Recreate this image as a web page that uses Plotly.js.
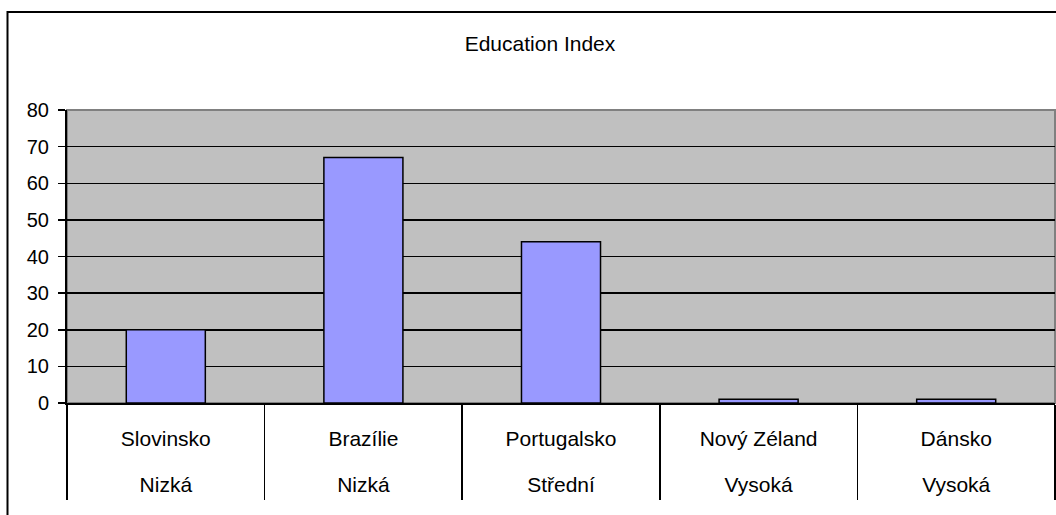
<!DOCTYPE html>
<html>
<head>
<meta charset="utf-8">
<script src="https://cdn.plot.ly/plotly-3.0.1.min.js"></script>
<style>
html,body{margin:0;padding:0;background:#fff;}
#chart{width:1056px;height:515px;}
</style>
</head>
<body>
<div id="chart"></div>
<script>
var countries = ["Slovinsko", "Brazílie", "Portugalsko", "Nový Zéland", "Dánsko"];
var levels = ["Nizká", "Nizká", "Střední", "Vysoká", "Vysoká"];
var values = [20, 67, 44, 1, 1];
var yTicks = [0, 10, 20, 30, 40, 50, 60, 70, 80];
var chartTitle = "Education Index";

var FONT = "Liberation Sans, Arial, sans-serif";

var trace = {
  type: "bar",
  x: countries,
  y: values,
  width: 0.4,
  marker: {color: "#9999FF", line: {color: "#000000", width: 1.5}},
  hoverinfo: "x+y"
};

// invisible helper so the second (level) category row is drawn
var levelTrace = {
  type: "scatter",
  mode: "markers",
  x: countries,
  y: values,
  xaxis: "x2",
  marker: {opacity: 0},
  hoverinfo: "skip",
  showlegend: false
};

var layout = {
  width: 1056,
  height: 515,
  margin: {l: 67, r: 1, t: 110, b: 112, pad: 0},
  paper_bgcolor: "#ffffff",
  plot_bgcolor: "#C0C0C0",
  showlegend: false,
  font: {family: FONT, size: 20, color: "#000000"},
  title: {
    text: chartTitle,
    font: {family: FONT, size: 21, color: "#000000"},
    x: 540 / 1056, xref: "container", xanchor: "center",
    y: 1 - 44 / 515, yref: "container", yanchor: "middle"
  },
  xaxis: {
    type: "category",
    categoryorder: "array",
    categoryarray: countries,
    range: [-0.5, 4.5],
    tickson: "boundaries",
    ticks: "outside",
    ticklen: 95,
    tickwidth: 1.5,
    tickcolor: "#000000",
    showline: true,
    linecolor: "#000000",
    linewidth: 2,
    showgrid: false,
    zeroline: false,
    ticklabelstandoff: 16,
    tickfont: {family: FONT, size: 21, color: "#000000"}
  },
  xaxis2: {
    type: "category",
    overlaying: "x",
    anchor: "y",
    side: "bottom",
    categoryorder: "array",
    categoryarray: countries,
    range: [-0.5, 4.5],
    tickmode: "array",
    tickvals: countries,
    ticktext: levels,
    ticks: "",
    showline: false,
    showgrid: false,
    zeroline: false,
    ticklabelstandoff: 67,
    tickfont: {family: FONT, size: 21, color: "#000000"}
  },
  yaxis: {
    range: [0, 80],
    tickmode: "array",
    tickvals: yTicks,
    ticks: "outside",
    ticklen: 7,
    tickwidth: 1.5,
    tickcolor: "#000000",
    showline: true,
    linecolor: "#000000",
    linewidth: 2,
    showgrid: true,
    gridcolor: "#000000",
    gridwidth: 1.5,
    zeroline: false,
    ticklabelstandoff: 5,
    tickfont: {family: FONT, size: 20, color: "#000000"}
  },
  shapes: [
    {type: "rect", xref: "paper", yref: "paper", x0: 0, x1: 1, y0: 0, y1: 1,
     line: {color: "#808080", width: 2}, fillcolor: "rgba(0,0,0,0)", layer: "below"},
    {type: "rect", xref: "paper", yref: "paper",
     x0: (7.5 - 67) / 988, x1: 1.1, y0: -0.5, y1: (403 - 12) / 293,
     line: {color: "#000000", width: 2}, fillcolor: "rgba(0,0,0,0)", layer: "above"}
  ]
};

Plotly.newPlot("chart", [trace, levelTrace], layout, {displayModeBar: false, staticPlot: true});
</script>
</body>
</html>
